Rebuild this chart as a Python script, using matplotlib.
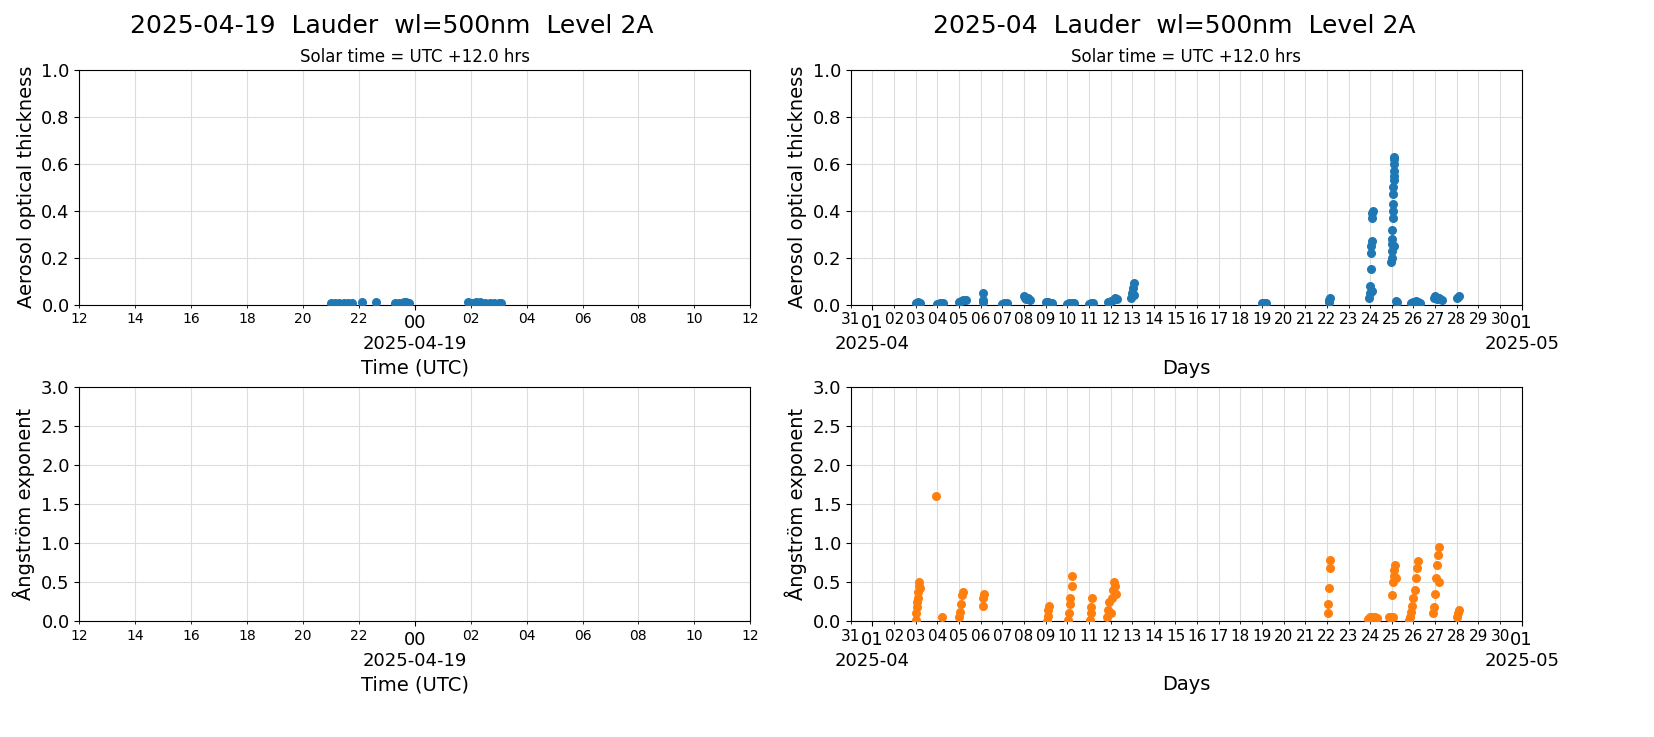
import datetime as dt
import matplotlib
matplotlib.use("Agg")
import matplotlib.pyplot as plt
import matplotlib.dates as mdates

# daily panel (2025-04-19), hours relative to 2025-04-19 00:00 UTC
day_hours = [-3.0, -2.85, -2.7, -2.55, -2.4, -2.25, -1.9, -1.4, -0.7, -0.55, -0.4, -0.3, -0.2,
             1.9, 2.05, 2.2, 2.35, 2.5, 2.7, 2.85, 3.0, 3.1]
day_aod = [0.008, 0.008, 0.007, 0.008, 0.008, 0.007, 0.012, 0.01, 0.007, 0.008, 0.01, 0.01, 0.008,
           0.009, 0.008, 0.01, 0.009, 0.007, 0.007, 0.008, 0.008, 0.007]

# monthly panel (2025-04), fractional day of month
mon_aod_day = [3.0, 3.05, 3.1, 3.15, 3.2, 4.0, 4.1, 4.25, 5.0, 5.1, 5.2, 5.3, 6.1, 6.1, 6.12,
               7.0, 7.1, 7.2, 8.0, 8.05, 8.1, 8.2, 8.3, 9.0, 9.1, 9.2, 9.3,
               10.0, 10.1, 10.2, 10.3, 11.0, 11.1, 11.2, 11.9, 12.0, 12.1, 12.2, 12.3,
               12.95, 13.0, 13.05, 13.1, 13.1, 19.0, 19.05, 19.1, 19.2, 22.1, 22.1, 22.12,
               23.95, 24.0, 24.0, 24.02, 24.05, 24.05, 24.07, 24.1, 24.1, 24.12, 24.1,
               24.95, 25.0, 25.0, 25.0, 25.02, 25.03, 25.05, 25.05, 25.05, 25.07, 25.07,
               25.08, 25.08, 25.1, 25.1, 25.1, 25.12, 25.12, 25.2, 25.25,
               25.9, 26.0, 26.1, 26.2, 26.3, 26.95, 27.0, 27.1, 27.2, 27.3, 28.0, 28.1]
mon_aod = [0.005, 0.008, 0.01, 0.007, 0.006, 0.004, 0.005, 0.006, 0.012, 0.015, 0.018, 0.02, 0.01, 0.05, 0.02,
           0.004, 0.006, 0.005, 0.035, 0.03, 0.025, 0.028, 0.02, 0.012, 0.01, 0.008, 0.006,
           0.004, 0.005, 0.006, 0.005, 0.004, 0.006, 0.005, 0.01, 0.015, 0.02, 0.03, 0.025,
           0.03, 0.05, 0.07, 0.09, 0.04, 0.005, 0.008, 0.006, 0.005, 0.01, 0.02, 0.03,
           0.03, 0.05, 0.08, 0.15, 0.22, 0.25, 0.27, 0.37, 0.39, 0.40, 0.06,
           0.18, 0.2, 0.23, 0.26, 0.28, 0.32, 0.37, 0.4, 0.43, 0.47, 0.5,
           0.53, 0.55, 0.57, 0.6, 0.62, 0.63, 0.25, 0.015, 0.01,
           0.008, 0.012, 0.015, 0.01, 0.008, 0.03, 0.035, 0.025, 0.03, 0.02, 0.03, 0.035]

mon_ae_day = [3.0, 3.02, 3.05, 3.07, 3.1, 3.12, 3.15, 3.17, 3.2, 3.95, 4.2,
              5.0, 5.05, 5.1, 5.15, 5.2, 6.1, 6.12, 6.14,
              9.05, 9.1, 9.12, 9.15, 10.05, 10.1, 10.12, 10.15, 10.2, 10.22,
              11.05, 11.1, 11.12, 11.15, 11.85, 11.9, 11.95, 12.0, 12.05, 12.1, 12.15, 12.2, 12.25,
              22.05, 22.07, 22.1, 22.12, 22.15, 23.9, 24.0, 24.1, 24.2, 24.3,
              24.85, 24.95, 25.05, 25.0, 25.05, 25.1, 25.12, 25.15, 25.2,
              25.8, 25.85, 25.9, 25.95, 26.0, 26.05, 26.1, 26.15, 26.2,
              26.9, 26.95, 27.0, 27.05, 27.1, 27.15, 27.2, 27.2, 28.0, 28.05, 28.1]
mon_ae = [0.02, 0.1, 0.18, 0.25, 0.3, 0.38, 0.45, 0.5, 0.42, 1.6, 0.05,
          0.05, 0.12, 0.22, 0.33, 0.38, 0.2, 0.3, 0.35,
          0.01, 0.07, 0.14, 0.2, 0.02, 0.1, 0.22, 0.3, 0.45, 0.58,
          0.02, 0.1, 0.18, 0.3, 0.05, 0.15, 0.25, 0.1, 0.3, 0.4, 0.5, 0.45, 0.35,
          0.1, 0.22, 0.42, 0.68, 0.78, 0.03, 0.05, 0.06, 0.05, 0.04,
          0.05, 0.06, 0.05, 0.33, 0.5, 0.58, 0.65, 0.72, 0.55,
          0.02, 0.06, 0.12, 0.2, 0.3, 0.4, 0.55, 0.68, 0.77,
          0.1, 0.18, 0.35, 0.55, 0.72, 0.85, 0.95, 0.5, 0.05, 0.1, 0.15]

day0 = dt.datetime(2025, 4, 19)
mon0 = dt.datetime(2025, 4, 1)
day_t = [day0 + dt.timedelta(hours=h) for h in day_hours]
aod_t = [mon0 + dt.timedelta(days=d - 1) for d in mon_aod_day]
ae_t = [mon0 + dt.timedelta(days=d - 1) for d in mon_ae_day]

blue, orange = "#1f77b4", "#ff7f0e"
fig, axs = plt.subplots(2, 2, figsize=(16.54, 7.37), dpi=100)
fig.subplots_adjust(left=0.048, right=0.92, top=0.905, bottom=0.157, wspace=0.15, hspace=0.35)

def style_day(ax):
    ax.set_xlim(day0 - dt.timedelta(hours=12), day0 + dt.timedelta(hours=12))
    ax.xaxis.set_major_locator(mdates.HourLocator(byhour=[0]))
    ax.xaxis.set_major_formatter(mdates.DateFormatter("%H\n%Y-%m-%d"))
    ax.xaxis.set_minor_locator(mdates.HourLocator(byhour=[h for h in range(2, 24, 2)]))
    ax.xaxis.set_minor_formatter(mdates.DateFormatter("%H"))
    ax.tick_params(axis="x", which="major", labelsize=13)
    ax.tick_params(axis="x", which="minor", labelsize=10)
    ax.set_xlabel("Time (UTC)", fontsize=14)
    ax.grid(True, which="both", color="#dddddd")

def style_mon(ax):
    ax.set_xlim(dt.datetime(2025, 3, 31), dt.datetime(2025, 5, 1))
    ax.xaxis.set_major_locator(mdates.MonthLocator())
    ax.xaxis.set_major_formatter(mdates.DateFormatter("%d\n%Y-%m"))
    ax.xaxis.set_minor_locator(mdates.DayLocator(bymonthday=list(range(2, 32))))
    ax.xaxis.set_minor_formatter(mdates.DateFormatter("%d"))
    ax.tick_params(axis="x", which="major", labelsize=13)
    ax.tick_params(axis="x", which="minor", labelsize=11)
    ax.set_xlabel("Days", fontsize=14)
    ax.grid(True, which="both", color="#dddddd")

for ax in axs.flat:
    ax.set_axisbelow(True)
    ax.tick_params(axis="y", labelsize=13)

ax = axs[0, 0]
ax.scatter(day_t, day_aod, s=30, color=blue, zorder=3)
style_day(ax)
ax.set_ylim(0, 1)
ax.set_ylabel("Aerosol optical thickness", fontsize=14)
ax.set_title("Solar time = UTC +12.0 hrs", fontsize=12)

ax = axs[1, 0]
style_day(ax)
ax.set_ylim(0, 3)
ax.set_ylabel("Ångström exponent", fontsize=14)

ax = axs[0, 1]
ax.scatter(aod_t, mon_aod, s=30, color=blue, zorder=3)
style_mon(ax)
ax.set_ylim(0, 1)
ax.set_ylabel("Aerosol optical thickness", fontsize=14)
ax.set_title("Solar time = UTC +12.0 hrs", fontsize=12)

ax = axs[1, 1]
ax.scatter(ae_t, mon_ae, s=30, color=orange, zorder=3)
style_mon(ax)
ax.set_ylim(0, 3)
ax.set_ylabel("Ångström exponent", fontsize=14)

fig.text(0.237, 0.955, "2025-04-19  Lauder  wl=500nm  Level 2A", fontsize=18, ha="center")
fig.text(0.71, 0.955, "2025-04  Lauder  wl=500nm  Level 2A", fontsize=18, ha="center")

fig.savefig("out.png")
